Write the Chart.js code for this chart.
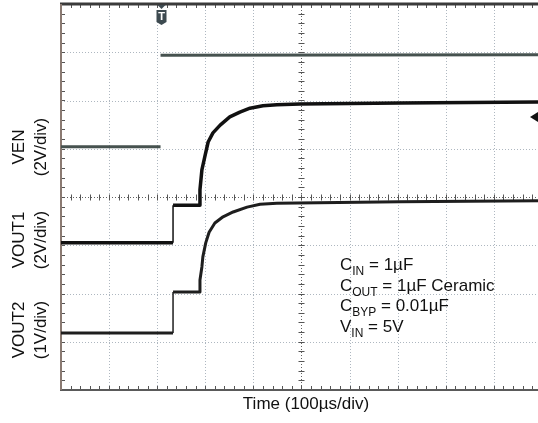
<!DOCTYPE html>
<html>
<head>
<meta charset="utf-8">
<script src="https://cdn.jsdelivr.net/npm/chart.js@4.4.1/dist/chart.umd.min.js"></script>
<style>
    html, body { margin: 0; padding: 0; background: #fff; overflow: hidden; }
    canvas { display: block; }
</style>
</head>
<body>
<canvas id="scope" width="538" height="423"></canvas>
<script>
// traces in divisions: x = 100us/div from left edge, y = divisions from bottom
// (null = fast edge the scope did not draw)
const venTime  = [0, 2.07, 2.07, 2.07, 9.92];
const venLevel = [5.04, 5.04, null, 6.94, 6.95];

const vout1Time  = [0, 2.33, 2.33, 2.87, 2.89, 2.93, 2.99, 3.06, 3.16, 3.31, 3.51, 3.72, 3.93, 4.20, 4.49, 4.97, 7.05, 9.92];
const vout1Level = [3.05, 3.05, 3.83, 3.83, 4.15, 4.56, 4.83, 5.14, 5.33, 5.49, 5.66, 5.76, 5.84, 5.89, 5.91, 5.93, 5.95, 5.97];

const vout2Time  = [0, 2.33, 2.33, 2.87, 2.89, 2.93, 2.95, 3.01, 3.08, 3.20, 3.37, 3.58, 3.87, 4.14, 4.49, 7.05, 9.92];
const vout2Level = [1.18, 1.18, 2.03, 2.03, 2.28, 2.55, 2.76, 3.05, 3.27, 3.46, 3.59, 3.69, 3.79, 3.85, 3.87, 3.90, 3.92];

const channelNames  = ['VEN', 'VOUT1', 'VOUT2'];
const channelScales = ['(2V/div)', '(2V/div)', '(1V/div)'];

const condMain = ['C', 'C', 'C', 'V'];
const condSub  = ['IN', 'OUT', 'BYP', 'IN'];
const condRest = [' = 1µF', ' = 1µF Ceramic', ' = 0.01µF', ' = 5V'];

const timeLabel = 'Time (100µs/div)';

function points(xs, ys) {
    return xs.map((x, i) => ({ x: x, y: ys[i] }));
}

// vertical step edges are drawn thin on the scope
const thinEdges = (w) => ({
    borderWidth: c => c.p0.parsed.x === c.p1.parsed.x ? 1.5 : w
});

const FONT = '"Liberation Sans", Arial, sans-serif';

const scopeDecor = {
    id: 'scopeDecor',
    beforeDatasetsDraw(chart) {
        const ctx = chart.ctx;
        const a = chart.chartArea;
        const xs = chart.scales.x, ys = chart.scales.y;
        ctx.save();
        // dotted graticule
        ctx.lineWidth = 1;
        ctx.setLineDash([1, 2]);
        xs.ticks.forEach(t => {
            if (t.value === 0) return;
            const px = Math.round(xs.getPixelForValue(t.value)) + 0.5;
            ctx.strokeStyle = t.value === 5 ? 'rgba(70,70,70,0.85)' : 'rgba(120,135,150,0.6)';
            ctx.beginPath(); ctx.moveTo(px, a.top); ctx.lineTo(px, a.bottom); ctx.stroke();
        });
        ys.ticks.forEach(t => {
            if (t.value === 0 || t.value === 8) return;
            const py = Math.round(ys.getPixelForValue(t.value)) + 0.5;
            ctx.strokeStyle = t.value === 4 ? 'rgba(70,70,70,0.85)' : 'rgba(120,135,150,0.6)';
            ctx.beginPath(); ctx.moveTo(a.left, py); ctx.lineTo(a.right, py); ctx.stroke();
        });
        ctx.setLineDash([]);
        // minor ticks on centre lines and borders
        ctx.strokeStyle = '#555';
        ctx.beginPath();
        for (let v = 0; v <= 10; v += 0.2) {
            const px = Math.round(xs.getPixelForValue(v)) + 0.5;
            if (px > a.right) break;
            const cy = Math.round(ys.getPixelForValue(4)) + 0.5;
            ctx.moveTo(px, cy - 3); ctx.lineTo(px, cy + 3);
            ctx.moveTo(px, a.bottom); ctx.lineTo(px, a.bottom - 4);
            ctx.moveTo(px, a.top); ctx.lineTo(px, a.top + 4);
        }
        for (let v = 0; v <= 8.001; v += 0.2) {
            const py = Math.round(ys.getPixelForValue(v)) + 0.5;
            const cx = Math.round(xs.getPixelForValue(5)) + 0.5;
            ctx.moveTo(cx - 3, py); ctx.lineTo(cx + 3, py);
            ctx.moveTo(a.left, py); ctx.lineTo(a.left + 4, py);
        }
        ctx.stroke();
        // frame
        ctx.strokeStyle = '#3a3a3a';
        ctx.lineWidth = 3;
        ctx.beginPath();
        ctx.moveTo(a.left - 1, a.top); ctx.lineTo(a.right, a.top);
        ctx.stroke();
        ctx.lineWidth = 2;
        ctx.strokeStyle = '#5a5a5a';
        ctx.beginPath();
        ctx.moveTo(a.left - 1, a.bottom); ctx.lineTo(a.right, a.bottom);
        ctx.stroke();
        ctx.strokeStyle = '#8a7a72';
        ctx.beginPath();
        ctx.moveTo(a.left, a.top); ctx.lineTo(a.left, a.bottom);
        ctx.stroke();
        ctx.restore();
    },
    afterDraw(chart) {
        const ctx = chart.ctx;
        const a = chart.chartArea;
        const xs = chart.scales.x;
        ctx.save();

        // trigger marker
        const tx = Math.round(xs.getPixelForValue(venTime[1])) + 0.5;
        ctx.fillStyle = '#3d4a50';
        ctx.beginPath();
        ctx.moveTo(tx - 4, a.top + 1); ctx.lineTo(tx + 4, a.top + 1); ctx.lineTo(tx, a.top + 5);
        ctx.closePath(); ctx.fill();
        ctx.beginPath();
        ctx.moveTo(tx - 5, a.top + 6);
        ctx.lineTo(tx + 5, a.top + 6);
        ctx.lineTo(tx + 5, a.top + 18);
        ctx.lineTo(tx, a.top + 21);
        ctx.lineTo(tx - 5, a.top + 18);
        ctx.closePath(); ctx.fill();
        ctx.fillStyle = '#fff';
        ctx.font = 'bold 11px ' + FONT;
        ctx.textAlign = 'center';
        ctx.textBaseline = 'middle';
        ctx.fillText('T', tx, a.top + 13);

        // reference arrow at right edge
        ctx.fillStyle = '#111';
        ctx.beginPath();
        ctx.moveTo(530, 117); ctx.lineTo(538, 112); ctx.lineTo(538, 122);
        ctx.closePath(); ctx.fill();

        // channel labels
        const labelY = [147, 240, 330];
        ctx.fillStyle = '#111';
        ctx.font = '17px ' + FONT;
        ctx.textAlign = 'center';
        ctx.textBaseline = 'middle';
        channelNames.forEach((name, i) => {
            ctx.save();
            ctx.translate(19, labelY[i]);
            ctx.rotate(-Math.PI / 2);
            ctx.fillText(name, 0, 0);
            ctx.restore();
            ctx.save();
            ctx.translate(41, labelY[i]);
            ctx.rotate(-Math.PI / 2);
            ctx.fillText(channelScales[i], 0, 0);
            ctx.restore();
        });

        // time label
        ctx.fillText(timeLabel, 306, 404);

        // test conditions
        ctx.textAlign = 'left';
        ctx.textBaseline = 'alphabetic';
        let baseY = 270;
        condMain.forEach((m, i) => {
            let x = 340;
            ctx.font = '17px ' + FONT;
            ctx.fillText(m, x, baseY);
            x += ctx.measureText(m).width;
            ctx.font = '12px ' + FONT;
            ctx.fillText(condSub[i], x, baseY + 5);
            x += ctx.measureText(condSub[i]).width;
            ctx.font = '17px ' + FONT;
            ctx.fillText(condRest[i], x, baseY);
            baseY += 20.7;
        });
        ctx.restore();
    }
};

new Chart(document.getElementById('scope'), {
    type: 'line',
    data: {
        datasets: [
            { label: 'VEN', data: points(venTime, venLevel), borderColor: '#46524f', borderWidth: 3 },
            { label: 'VOUT1', data: points(vout1Time, vout1Level), borderColor: '#111', borderWidth: 3.5, segment: thinEdges(3.5) },
            { label: 'VOUT2', data: points(vout2Time, vout2Level), borderColor: '#1e1e1e', borderWidth: 3, segment: thinEdges(3) }
        ]
    },
    options: {
        responsive: false,
        animation: false,
        devicePixelRatio: 1,
        spanGaps: false,
        layout: { padding: { left: 61, top: 4, right: 0, bottom: 33 } },
        elements: { point: { radius: 0 }, line: { tension: 0, borderJoinStyle: 'round' } },
        plugins: { legend: { display: false }, tooltip: { enabled: false } },
        scales: {
            x: {
                type: 'linear', min: 0, max: 9.92,
                ticks: { display: false, stepSize: 1 },
                afterBuildTicks: s => { s.ticks = s.ticks.filter(t => Number.isInteger(t.value)); },
                grid: { display: false, drawTicks: false },
                border: { display: false }
            },
            y: {
                type: 'linear', min: 0, max: 8,
                ticks: { display: false, stepSize: 1 },
                grid: { display: false, drawTicks: false },
                border: { display: false }
            }
        }
    },
    plugins: [scopeDecor]
});
</script>
</body>
</html>
